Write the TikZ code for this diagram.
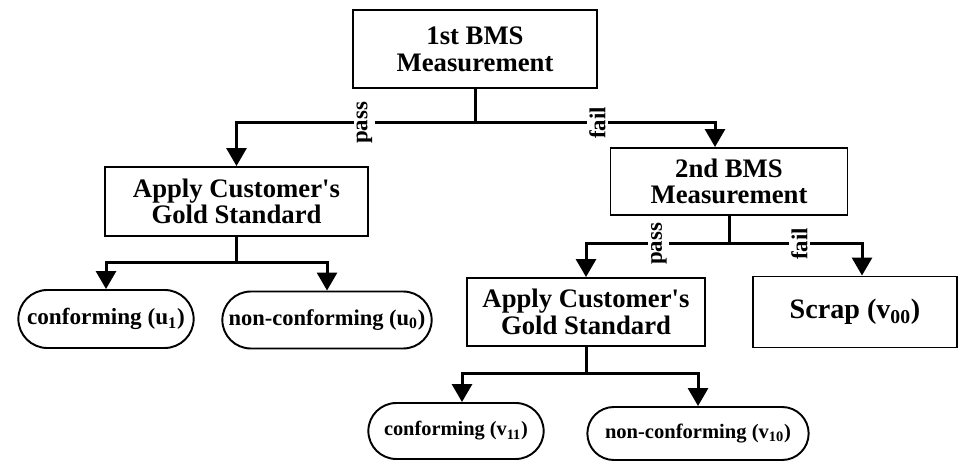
\documentclass[tikz,border=0pt]{standalone}
\usepackage{fontspec}
\setmainfont{Liberation Serif}
\usetikzlibrary{arrows.meta,shapes.misc}

\begin{document}
\begin{tikzpicture}[thick,
    box_style/.style = {draw, rectangle, line width=1.1pt, align=center, font=\bfseries\fontsize{15.2}{15.2}\selectfont},
    end_style/.style = {draw, rounded rectangle, line width=1.1pt, align=center, font=\bfseries\fontsize{13.2}{14}\selectfont},
    line_style/.style = {line width=1.7pt},
    arrow_style/.style = {line_style, -{Triangle[width=0.4cm, length=0.36cm]}},
    label_style/.style = {rotate=90, fill=white, inner sep=1.5pt, font=\bfseries\fontsize{13}{13}\selectfont}]

\useasboundingbox (0,0) rectangle (19.18,-9.22);

% first measurement
\node[box_style, minimum width=4.88cm, minimum height=1.56cm] (m1) at (9.5,-0.98) {1st BMS\\Measurement};

\node[box_style, below of=m1, node distance=3.05cm, xshift=-4.77cm, minimum width=5.26cm, minimum height=1.38cm] (g1) {Apply Customer\textquotesingle s\\Gold Standard};

\node[box_style, below of=m1, node distance=2.65cm, xshift=5.08cm, minimum width=4.74cm, minimum height=1.34cm] (m2) {2nd BMS\\Measurement};

% outcomes after pass
\node[end_style, below of=g1, node distance=2.35cm, xshift=-2.61cm, minimum width=3.74cm, minimum height=1.16cm] (c1) {conforming (u\textsubscript{1})};

\node[end_style, below of=g1, node distance=2.37cm, xshift=1.81cm, minimum width=4.42cm, minimum height=1.14cm, font=\bfseries\fontsize{12.8}{14}\selectfont] (n1) {non-conforming (u\textsubscript{0})};

% second measurement
\node[box_style, below of=m2, node distance=2.61cm, xshift=-2.86cm, minimum width=4.76cm, minimum height=1.36cm] (g2) {Apply Customer\textquotesingle s\\Gold Standard};

\node[box_style, below of=m2, node distance=2.61cm, xshift=2.52cm, minimum width=4.08cm, minimum height=1.42cm, font=\bfseries\fontsize{16}{17}\selectfont] (s) {Scrap (v\textsubscript{00})};

\node[end_style, below of=g2, node distance=2.38cm, xshift=-2.60cm, minimum width=3.74cm, minimum height=1.12cm, font=\bfseries\fontsize{11.6}{13}\selectfont] (c2) {conforming (v\textsubscript{11})};

\node[end_style, below of=g2, node distance=2.43cm, xshift=2.24cm, minimum width=4.66cm, minimum height=1.06cm, font=\bfseries\fontsize{11.7}{13}\selectfont] (n2) {non-conforming (v\textsubscript{10})};

% junctions
\coordinate (j1) at ([yshift=-0.68cm]m1.south);
\coordinate (j2) at ([yshift=-0.52cm]g1.south);
\coordinate (j3) at ([yshift=-0.56cm]m2.south);
\coordinate (j4) at ([yshift=-0.54cm]g2.south);

% 1st measurement -> pass / fail
\draw[line_style] (m1) -- (j1);
\draw[arrow_style] (j1) -| node[label_style, pos=0.232] {pass} (g1);
\draw[arrow_style] (j1) -| node[label_style, pos=0.255] {fail} ([xshift=-0.28cm]m2.north);

% gold standard -> outcomes
\draw[line_style] (g1) -- (j2);
\draw[arrow_style] (j2) -| (c1);
\draw[arrow_style] (j2) -| (n1);

% 2nd measurement -> pass / fail
\draw[line_style] (m2) -- (j3);
\draw[arrow_style] (j3) -| node[label_style, pos=0.245] {pass} (g2);
\draw[arrow_style] (j3) -| node[label_style, pos=0.265] {fail} ([xshift=0.14cm]s.north);

% gold standard -> outcomes
\draw[line_style] (g2) -- (j4);
\draw[arrow_style] (j4) -| ([xshift=0.12cm]c2.north);
\draw[arrow_style] (j4) -| (n2);

\end{tikzpicture}
\end{document}
